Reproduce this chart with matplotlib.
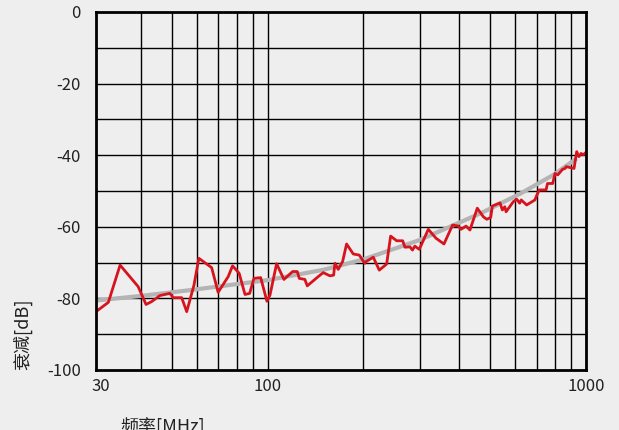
import numpy as np
import matplotlib
matplotlib.use("Agg")
import matplotlib.pyplot as plt

plt.rcParams['font.family'] = ['Noto Sans CJK SC', 'DejaVu Sans']

# measured attenuation (red)
freq = [28.9, 31.6, 34.4, 39.2, 41.5, 43.2, 45.9, 49.3, 50.5, 53.7, 55.7, 58.7,
        60.8, 66.7, 69.9, 75.2, 77.6, 81.4, 84.9, 87.8, 90.6, 95.1, 99.5, 101.7,
        106.7, 112.5, 119.8, 123.9, 125.7, 130.9, 133.2, 144.2, 149.5, 157, 161.2,
        162.7, 166.6, 172, 177, 185.8, 194, 202, 204, 214.7, 224.2, 236.5, 243.4,
        254.3, 265.6, 270, 280, 285, 290, 299.5, 319.7, 338, 358, 381, 397, 405,
        420, 432, 455.5, 476, 488, 502, 508, 537, 546, 556, 561, 591, 606, 619,
        626, 651, 691, 699, 713, 749, 757, 786, 799, 815, 845, 860, 866, 917, 935,
        950, 965, 980, 1000]
atten = [-83.7, -81.1, -70.7, -76.7, -81.7, -80.9, -79.2, -78.6, -79.8, -79.8,
         -83.7, -76.3, -68.8, -71.4, -78.3, -73.9, -70.9, -73.0, -78.9, -78.6,
         -74.4, -74.2, -80.8, -79.1, -70.3, -74.7, -72.5, -72.5, -74.4, -74.7,
         -76.5, -73.9, -72.8, -73.7, -73.5, -70.2, -71.9, -69.7, -64.8, -67.6,
         -67.9, -70.2, -69.7, -68.5, -72.1, -70.4, -62.6, -63.9, -63.9, -65.7,
         -65.6, -66.5, -65.4, -66.3, -60.7, -63.2, -64.8, -59.5, -59.8, -60.7,
         -59.8, -60.9, -54.8, -57.2, -57.9, -57.4, -54.2, -53.3, -55.3, -54.4,
         -55.8, -53.0, -52.3, -53.4, -52.5, -53.9, -52.5, -51.4, -49.7, -49.7,
         -47.9, -47.9, -45.1, -45.5, -43.9, -43.7, -43.2, -43.7, -39.0, -40.4,
         -39.5, -39.9, -39.2]

# limit / trend curve (gray)
trend_freq = [28.9, 40, 57, 100, 150, 200, 300, 470, 620, 790, 935]
trend_atten = [-80.6, -79.3, -77.7, -74.9, -72.0, -69.1, -63.7, -56.1, -50.8, -45.5, -40.9]

grid_freq = [40, 50, 60, 70, 80, 90, 100, 200, 300, 400, 500, 600, 700, 800, 900]
xticks = [30, 100, 1000]
yticks = [0, -20, -40, -60, -80, -100]

bg = '#eeeeee'
fig = plt.figure(figsize=(6.19, 4.30), dpi=100, facecolor=bg)
ax = fig.add_axes([96/619, 60/430, 490/619, 358/430], facecolor=bg)

ax.set_xscale('log')
ax.set_xlim(28.9, 1000)
ax.set_ylim(-100, 0)

for f in grid_freq:
    ax.axvline(f, color='black', lw=1.0, zorder=1)
for y in range(-90, 0, 10):
    ax.axhline(y, color='black', lw=1.0, zorder=1)

ax.plot(trend_freq, trend_atten, color='#b4b4b4', lw=3.0, zorder=2, solid_capstyle='butt')
ax.plot(freq, atten, color='#d7141e', lw=2.0, zorder=3)

ax.set_xticks(xticks)
ax.set_xticklabels([str(t) for t in xticks])
ax.xaxis.set_minor_locator(matplotlib.ticker.NullLocator())
ax.set_yticks(yticks)
ax.set_yticklabels([str(t) for t in yticks])
ax.tick_params(axis='both', length=0, labelsize=12, colors='#222222')
ax.tick_params(axis='y', pad=11)
ax.tick_params(axis='x', pad=6)

for s in ax.spines.values():
    s.set_linewidth(2.0)
    s.set_color('black')
    s.set_zorder(4)

fig.text(22.5/619, 1 - 334/430, '衰减[dB]', rotation=90, ha='center', va='center',
         fontsize=13, color='#222222')
fig.text(162.5/619, 1 - 427/430, '频率[MHz]', ha='center', va='center',
         fontsize=13, color='#222222')

fig.savefig('out.png', dpi=100, facecolor=bg)
